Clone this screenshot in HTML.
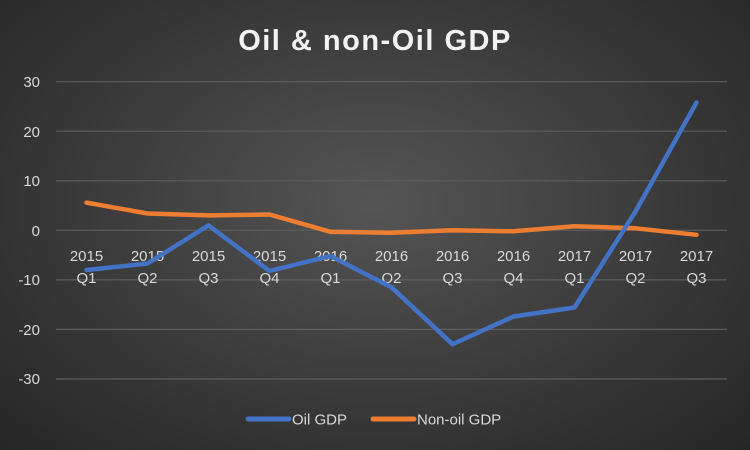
<!DOCTYPE html>
<html><head><meta charset="utf-8"><style>
html,body{margin:0;padding:0;}
body{width:750px;height:450px;overflow:hidden;background:radial-gradient(ellipse at 50% 45%,#555 0%,#3a3a3a 55%,#262626 100%);font-family:"Liberation Sans",sans-serif;}
</style></head><body>
<svg width="750" height="450" xmlns="http://www.w3.org/2000/svg" style="position:absolute;left:0;top:0">
<text x="375" y="50" text-anchor="middle" fill="#f2f2f2" font-size="29" font-weight="bold" font-family="Liberation Sans, sans-serif" letter-spacing="1.5">Oil &amp; non-Oil GDP</text>
<g stroke="#5e5e5e" stroke-width="1.2">
<line x1="56" x2="727" y1="81.7" y2="81.7"/><line x1="56" x2="727" y1="131.2" y2="131.2"/>
<line x1="56" x2="727" y1="180.8" y2="180.8"/><line x1="56" x2="727" y1="230.3" y2="230.3"/>
<line x1="56" x2="727" y1="279.9" y2="279.9"/><line x1="56" x2="727" y1="329.4" y2="329.4"/>
<line x1="56" x2="727" y1="379" y2="379"/>
</g>
<g fill="#d9d9d9" font-size="15" text-anchor="end" font-family="Liberation Sans, sans-serif">
<text x="40" y="87">30</text><text x="40" y="137">20</text><text x="40" y="186">10</text>
<text x="40" y="236">0</text><text x="40" y="285">-10</text><text x="40" y="335">-20</text><text x="40" y="384">-30</text>
</g>
<polyline fill="none" stroke="#ed7d31" stroke-width="4.5" stroke-linejoin="round" stroke-linecap="round"
points="86.5,202.6 147.5,213.5 208.5,215.4 269.5,214.5 330.5,231.8 391.5,232.8 452.5,230.3 513.5,231.3 574.5,226.3 635.5,228.3 696.5,234.8"/>
<g fill="#d9d9d9" font-size="15" text-anchor="middle" font-family="Liberation Sans, sans-serif">
<text x="86.5" y="261">2015</text><text x="86.5" y="283">Q1</text>
<text x="147.5" y="261">2015</text><text x="147.5" y="283">Q2</text>
<text x="208.5" y="261">2015</text><text x="208.5" y="283">Q3</text>
<text x="269.5" y="261">2015</text><text x="269.5" y="283">Q4</text>
<text x="330.5" y="261">2016</text><text x="330.5" y="283">Q1</text>
<text x="391.5" y="261">2016</text><text x="391.5" y="283">Q2</text>
<text x="452.5" y="261">2016</text><text x="452.5" y="283">Q3</text>
<text x="513.5" y="261">2016</text><text x="513.5" y="283">Q4</text>
<text x="574.5" y="261">2017</text><text x="574.5" y="283">Q1</text>
<text x="635.5" y="261">2017</text><text x="635.5" y="283">Q2</text>
<text x="696.5" y="261">2017</text><text x="696.5" y="283">Q3</text>
</g>
<polyline fill="none" stroke="#4472c4" stroke-width="4.5" stroke-linejoin="round" stroke-linecap="round"
points="86.5,270 147.5,263.5 208.5,225.4 269.5,271 330.5,256 391.5,287.3 452.5,344.2 513.5,316.5 574.5,307.5 635.5,211.5 696.5,102.5"/>
<line x1="248" x2="289" y1="419" y2="419" stroke="#4472c4" stroke-width="5" stroke-linecap="round"/>
<text x="292" y="424.5" fill="#d9d9d9" font-size="15" font-family="Liberation Sans, sans-serif">Oil GDP</text>
<line x1="373" x2="414" y1="419" y2="419" stroke="#ed7d31" stroke-width="5" stroke-linecap="round"/>
<text x="417" y="424.5" fill="#d9d9d9" font-size="15" font-family="Liberation Sans, sans-serif">Non-oil GDP</text>
</svg>
</body></html>
